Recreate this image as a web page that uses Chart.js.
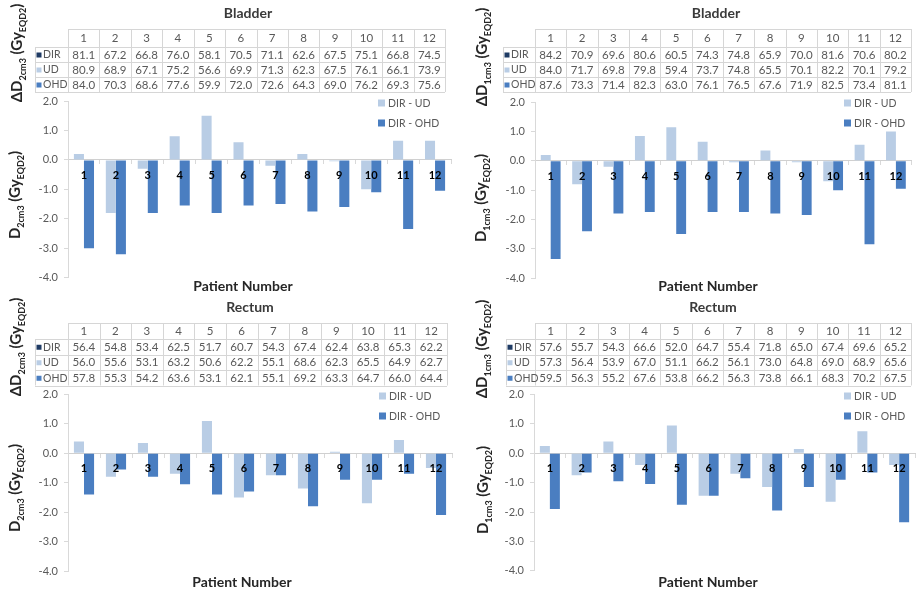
<!DOCTYPE html>
<html>
<head>
<meta charset="utf-8">
<script src="https://cdn.jsdelivr.net/npm/chart.js@4.4.1/dist/chart.umd.min.js"></script>
<style>
  html, body { margin: 0; padding: 0; background: #fff; }
  #wrap { position: relative; width: 916px; height: 595px; overflow: hidden; background: #fff; }
  .panel { position: absolute; }
  canvas { display: block; }
</style>
</head>
<body>
<div id="wrap">
  <div class="panel" style="left:0;top:0"><canvas id="bl2" width="458" height="297"></canvas></div>
  <div class="panel" style="left:458px;top:0"><canvas id="bl1" width="458" height="297"></canvas></div>
  <div class="panel" style="left:0;top:297px"><canvas id="re2" width="458" height="298"></canvas></div>
  <div class="panel" style="left:458px;top:297px"><canvas id="re1" width="458" height="298"></canvas></div>
</div>
<script>
// Patients and table rows
const patients = ['1', '2', '3', '4', '5', '6', '7', '8', '9', '10', '11', '12'];
const methods = ['DIR', 'UD', 'OHD'];
const diffLabels = ['DIR - UD', 'DIR - OHD'];
const yTicks = [2, 1, 0, -1, -2, -3, -4];

// Bladder, D2cm3 (Gy EQD2)
const bladder2Dir = [81.1, 67.2, 66.8, 76.0, 58.1, 70.5, 71.1, 62.6, 67.5, 75.1, 66.8, 74.5];
const bladder2Ud  = [80.9, 68.9, 67.1, 75.2, 56.6, 69.9, 71.3, 62.3, 67.5, 76.1, 66.1, 73.9];
const bladder2Ohd = [84.0, 70.3, 68.6, 77.6, 59.9, 72.0, 72.6, 64.3, 69.0, 76.2, 69.3, 75.6];
const bladder2DirUd  = [0.2, -1.8, -0.3, 0.8, 1.5, 0.6, -0.2, 0.2, -0.05, -1.0, 0.65, 0.65];
const bladder2DirOhd = [-3.0, -3.2, -1.8, -1.55, -1.8, -1.55, -1.5, -1.75, -1.6, -1.1, -2.35, -1.05];

// Bladder, D1cm3 (Gy EQD2)
const bladder1Dir = [84.2, 70.9, 69.6, 80.6, 60.5, 74.3, 74.8, 65.9, 70.0, 81.6, 70.6, 80.2];
const bladder1Ud  = [84.0, 71.7, 69.8, 79.8, 59.4, 73.7, 74.8, 65.5, 70.1, 82.2, 70.1, 79.2];
const bladder1Ohd = [87.6, 73.3, 71.4, 82.3, 63.0, 76.1, 76.5, 67.6, 71.9, 82.5, 73.4, 81.1];
const bladder1DirUd  = [0.2, -0.8, -0.2, 0.85, 1.15, 0.65, -0.05, 0.35, -0.05, -0.7, 0.55, 1.0];
const bladder1DirOhd = [-3.35, -2.4, -1.8, -1.75, -2.5, -1.75, -1.75, -1.8, -1.85, -1.0, -2.85, -0.95];

// Rectum, D2cm3 (Gy EQD2)
const rectum2Dir = [56.4, 54.8, 53.4, 62.5, 51.7, 60.7, 54.3, 67.4, 62.4, 63.8, 65.3, 62.2];
const rectum2Ud  = [56.0, 55.6, 53.1, 63.2, 50.6, 62.2, 55.1, 68.6, 62.3, 65.5, 64.9, 62.7];
const rectum2Ohd = [57.8, 55.3, 54.2, 63.6, 53.1, 62.1, 55.1, 69.2, 63.3, 64.7, 66.0, 64.4];
const rectum2DirUd  = [0.4, -0.8, 0.35, -0.7, 1.1, -1.5, -0.75, -1.2, 0.05, -1.7, 0.45, -0.5];
const rectum2DirOhd = [-1.4, -0.55, -0.8, -1.05, -1.4, -1.3, -0.75, -1.8, -0.9, -0.9, -0.7, -2.1];

// Rectum, D1cm3 (Gy EQD2)
const rectum1Dir = [57.6, 55.7, 54.3, 66.6, 52.0, 64.7, 55.4, 71.8, 65.0, 67.4, 69.6, 65.2];
const rectum1Ud  = [57.3, 56.4, 53.9, 67.0, 51.1, 66.2, 56.1, 73.0, 64.8, 69.0, 68.9, 65.6];
const rectum1Ohd = [59.5, 56.3, 55.2, 67.6, 53.8, 66.2, 56.3, 73.8, 66.1, 68.3, 70.2, 67.5];
const rectum1DirUd  = [0.25, -0.75, 0.4, -0.4, 0.95, -1.45, -0.7, -1.15, 0.15, -1.65, 0.75, -0.4];
const rectum1DirOhd = [-1.9, -0.65, -0.95, -1.05, -1.75, -1.45, -0.85, -1.95, -1.15, -0.9, -0.65, -2.35];

// Colours
const methodColors = ['#1F3B64', '#B9CDE5', '#4A7EC1'];
const diffColors = ['#B9CDE5', '#4A7EC1'];
const FONT = 'Lato, "Open Sans", sans-serif';

// Per-panel geometry (canvas-relative pixels)
const panelDefs = [
  { id: 'bl2', title: 'Bladder', vol: '2cm3', rows: [bladder2Dir, bladder2Ud, bladder2Ohd], diffs: [bladder2DirUd, bladder2DirOhd],
    area: { l: 68, r: 451, t: 101, b: 277.7 }, titleAt: [248, 13],
    table: { l: 68, r: 445, top: 29, lines: [47, 62, 77, 92], hdrL: 35 },
    yTitle1: [17, 53], yTitle2: [15, 195], xTitle: [243, 286], legend: [378, 103, 123] },
  { id: 'bl1', title: 'Bladder', vol: '1cm3', rows: [bladder1Dir, bladder1Ud, bladder1Ohd], diffs: [bladder1DirUd, bladder1DirOhd],
    area: { l: 77, r: 453.6, t: 102.3, b: 278 }, titleAt: [258, 13],
    table: { l: 77, r: 453, top: 29, lines: [47, 62, 77, 92], hdrL: 45 },
    yTitle1: [24, 57], yTitle2: [23, 198], xTitle: [250, 286], legend: [386, 103, 123] },
  { id: 're2', title: 'Rectum', vol: '2cm3', rows: [rectum2Dir, rectum2Ud, rectum2Ohd], diffs: [rectum2DirUd, rectum2DirOhd],
    area: { l: 68, r: 452, t: 97.4, b: 274 }, titleAt: [250, 10],
    table: { l: 68, r: 447, top: 26, lines: [42, 57.5, 73, 88.5], hdrL: 35 },
    yTitle1: [16, 50], yTitle2: [15, 191], xTitle: [242, 285], legend: [379, 99, 119] },
  { id: 're1', title: 'Rectum', vol: '1cm3', rows: [rectum1Dir, rectum1Ud, rectum1Ohd], diffs: [rectum1DirUd, rectum1DirOhd],
    area: { l: 76, r: 457, t: 97.6, b: 273.7 }, titleAt: [255, 10],
    table: { l: 77, r: 453, top: 26, lines: [42, 57.5, 73, 88.5], hdrL: 48 },
    yTitle1: [24, 52], yTitle2: [25, 193], xTitle: [250, 285], legend: [386, 99, 119] }
];

// Draws a run of text with subscript pieces, optionally rotated to read upwards
function drawRich(ctx, segs, cx, cy, rotated, size, color) {
  const mainF = 'bold ' + size + 'px ' + FONT;
  const subF = 'bold ' + Math.round(size * 0.62) + 'px ' + FONT;
  let total = 0;
  const widths = segs.map(s => { ctx.font = s.sub ? subF : mainF; const w = ctx.measureText(s.t).width; total += w; return w; });
  ctx.save();
  ctx.translate(cx, cy);
  if (rotated) ctx.rotate(-Math.PI / 2);
  ctx.fillStyle = color;
  ctx.textAlign = 'left';
  ctx.textBaseline = 'alphabetic';
  let x = -total / 2;
  const base = size * 0.36;
  segs.forEach((s, i) => {
    ctx.font = s.sub ? subF : mainF;
    ctx.fillText(s.t, x, base + (s.sub ? size * 0.22 : 0));
    x += widths[i];
  });
  ctx.restore();
}

function px(v) { return Math.round(v) + 0.5; }

function makeDecor(def) {
  return {
    id: 'decor_' + def.id,
    afterDraw(chart) {
      const ctx = chart.ctx;
      const T = def.table;
      const cw = (T.r - T.l) / patients.length;
      ctx.save();

      // Panel title
      ctx.font = 'bold 14px ' + FONT;
      ctx.fillStyle = '#3A3A3A';
      ctx.textAlign = 'center';
      ctx.textBaseline = 'middle';
      ctx.fillText(def.title, def.titleAt[0], def.titleAt[1]);

      // Data table grid
      ctx.strokeStyle = '#D6D6D6';
      ctx.lineWidth = 1;
      ctx.beginPath();
      ctx.moveTo(T.l, px(T.top)); ctx.lineTo(T.r, px(T.top));
      T.lines.forEach(y => { ctx.moveTo(T.hdrL, px(y)); ctx.lineTo(T.r, px(y)); });
      for (let i = 0; i <= patients.length; i++) {
        const x = px(T.l + i * cw);
        ctx.moveTo(x, T.top); ctx.lineTo(x, T.lines[3]);
      }
      ctx.moveTo(px(T.hdrL), T.lines[0]); ctx.lineTo(px(T.hdrL), T.lines[3]);
      ctx.stroke();

      // Header row: patient numbers
      ctx.font = '11.5px ' + FONT;
      ctx.fillStyle = '#595959';
      ctx.textAlign = 'center';
      ctx.textBaseline = 'middle';
      patients.forEach((p, i) => ctx.fillText(p, T.l + (i + 0.5) * cw, (T.top + T.lines[0]) / 2 + 0.5));

      // Method rows
      def.rows.forEach((vals, r) => {
        const y0 = T.lines[r], y1 = T.lines[r + 1], yc = (y0 + y1) / 2 + 0.5;
        ctx.fillStyle = methodColors[r];
        ctx.fillRect(T.hdrL + 1.5, yc - 2.5, 5, 5);
        ctx.fillStyle = '#595959';
        ctx.font = '10.5px ' + FONT;
        ctx.textAlign = 'left';
        ctx.fillText(methods[r], T.hdrL + 8, yc);
        ctx.font = '11.5px ' + FONT;
        ctx.textAlign = 'center';
        vals.forEach((v, i) => ctx.fillText(v.toFixed(1), T.l + (i + 0.5) * cw, yc));
      });

      // Legend of the bar series
      ctx.font = '10.5px ' + FONT;
      ctx.textAlign = 'left';
      diffLabels.forEach((lab, k) => {
        const y = def.legend[1 + k];
        ctx.fillStyle = diffColors[k];
        ctx.fillRect(def.legend[0], y - 3.5, 7, 7);
        ctx.fillStyle = '#595959';
        ctx.fillText(lab, def.legend[0] + 10, y + 0.5);
      });

      // Axis titles
      const volSegs = (delta) => [
        { t: (delta ? '\u0394' : '') + 'D' }, { t: def.vol, sub: true },
        { t: ' (Gy' }, { t: 'EQD2', sub: true }, { t: ')' }
      ];
      drawRich(ctx, volSegs(true), def.yTitle1[0], def.yTitle1[1], true, 15, '#262626');
      drawRich(ctx, volSegs(false), def.yTitle2[0], def.yTitle2[1], true, 15, '#262626');
      ctx.font = 'bold 14px ' + FONT;
      ctx.fillStyle = '#262626';
      ctx.textAlign = 'center';
      ctx.textBaseline = 'middle';
      ctx.fillText('Patient Number', def.xTitle[0], def.xTitle[1]);
      ctx.restore();
    }
  };
}

panelDefs.forEach(def => {
  const canvas = document.getElementById(def.id);
  const W = canvas.width, H = canvas.height;
  new Chart(canvas, {
    type: 'bar',
    data: {
      labels: patients,
      datasets: [
        { label: diffLabels[0], data: def.diffs[0], backgroundColor: diffColors[0] },
        { label: diffLabels[1], data: def.diffs[1], backgroundColor: diffColors[1] }
      ]
    },
    options: {
      responsive: false,
      animation: false,
      devicePixelRatio: 1,
      categoryPercentage: 0.63,
      barPercentage: 1.0,
      layout: { padding: { left: 0, right: W - def.area.r, top: def.area.t, bottom: H - def.area.b } },
      plugins: { legend: { display: false }, title: { display: false }, tooltip: { enabled: false } },
      scales: {
        x: {
          type: 'category',
          position: { y: 0 },
          grid: { display: true, drawOnChartArea: false, tickLength: 4, color: '#D9D9D9', offset: true, z: 0 },
          border: { display: true, color: '#D0D0D0' },
          ticks: { z: 1, color: '#000', padding: 5, font: { family: FONT, size: 11, weight: 'bold' }, maxRotation: 0, autoSkip: false }
        },
        y: {
          min: yTicks[yTicks.length - 1],
          max: yTicks[0],
          afterBuildTicks: (scale) => { scale.ticks = yTicks.map(v => ({ value: v })); },
          afterFit: (scale) => { scale.width = def.area.l; scale.paddingTop = 0; scale.paddingBottom = 0; },
          grid: { display: true, drawOnChartArea: false, tickLength: 4, color: '#D9D9D9' },
          border: { display: true, color: '#D9D9D9' },
          ticks: { color: '#595959', padding: 6, font: { family: FONT, size: 11 }, callback: (v) => Number(v).toFixed(1) }
        }
      }
    },
    plugins: [makeDecor(def)]
  });
});
</script>
</body>
</html>
